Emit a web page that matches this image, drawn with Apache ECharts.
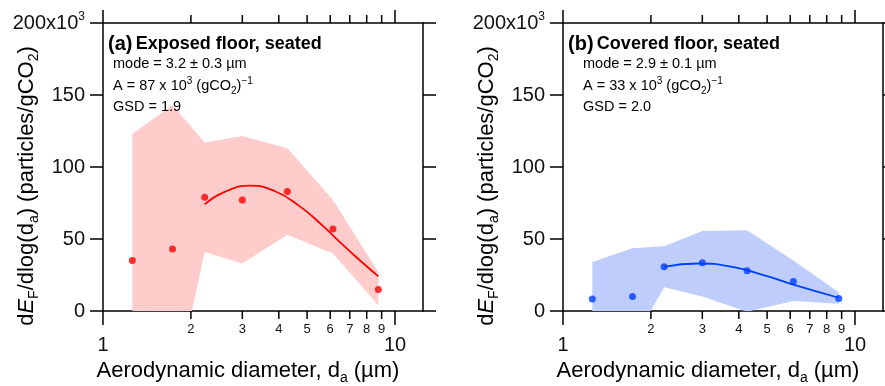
<!DOCTYPE html>
<html>
<head>
<meta charset="utf-8">
<script src="https://cdn.jsdelivr.net/npm/echarts@6/dist/echarts.min.js"></script>
<style>
html,body{margin:0;padding:0;background:#fff;}
#c{width:885px;height:386px;}
</style>
</head>
<body>
<div id="c"></div>
<script>
// ---------- data ----------
const xTickMajor = [1, 10];
const xTickMinor = [2, 3, 4, 5, 6, 7, 8, 9];
const yTicks = [0, 50, 100, 150, 200];

// Panel (a) Exposed floor, seated
const xA = [1.26, 1.73, 2.23, 3.0, 4.28, 6.13, 8.77];
const yA = [35, 43, 79, 77, 83, 57, 15];
const upperA = [123, 143, 117, 121.5, 113, 77, 27];
const lowerA = [-50, -62, 41, 33, 53, 40, 4];
const fitXA = [2.23, 2.6, 3.2, 3.9, 4.7, 5.6, 6.7, 7.8, 8.77];
const fitYA = [74, 82.6, 87, 83, 73, 60, 45, 33, 24];

// Panel (b) Covered floor, seated
const xB = [1.26, 1.73, 2.22, 3.0, 4.27, 6.15, 8.8];
const yB = [8.3, 10, 30.8, 33.5, 28, 20.4, 8.6];
const upperB = [34, 43.5, 45, 55.5, 56, 35, 13];
const lowerB = [-20, -22, 16.5, 10, -0.5, 7, 5];
const fitXB = [2.22, 2.9, 3.8, 5.0, 6.4, 8.8];
const fitYB = [30.6, 33, 30.6, 24.2, 17.2, 9.2];

// ---------- chart ----------
const FONT = '"Liberation Sans", Arial, sans-serif';
const X_MIN = 1, X_MAX = 12.47;
const chart = echarts.init(document.getElementById('c'), null, {renderer: 'canvas'});

const zip = (a, b) => a.map((v, i) => [v, b[i]]);

function xAxes(gi) {
  return [
    {
      gridIndex: gi, type: 'log', logBase: 10, min: X_MIN, max: X_MAX, position: 'bottom',
      axisLine: {onZero: false, lineStyle: {color: '#000', width: 1.5}},
      axisTick: {show: true, length: 14, customValues: xTickMajor, lineStyle: {color: '#000', width: 1.5}},
      axisLabel: {fontSize: 20, margin: 24, color: '#111', fontFamily: FONT, customValues: xTickMajor,
        formatter: v => String(Math.round(v))},
      splitLine: {show: false}
    },
    {
      gridIndex: gi, type: 'log', logBase: 10, min: X_MIN, max: X_MAX, position: 'top',
      axisLine: {onZero: false, lineStyle: {color: '#000', width: 1.5}},
      axisTick: {show: true, length: 13, customValues: xTickMajor, lineStyle: {color: '#000', width: 1.5}},
      axisLabel: {show: false},
      splitLine: {show: false}
    }
  ];
}
function yAxes(gi) {
  return [
    {
      gridIndex: gi, type: 'value', min: yTicks[0], max: yTicks[yTicks.length - 1], interval: 50, position: 'left',
      axisLine: {show: true, onZero: false, lineStyle: {color: '#000', width: 1.5}},
      axisTick: {show: true, length: 13, lineStyle: {color: '#000', width: 1.5}},
      axisLabel: {fontSize: 20, margin: 18, color: '#111', fontFamily: FONT,
        formatter: v => v === 200 ? '{m|200x10}{s|3}' : '{m|' + v + '}',
        rich: {
          m: {fontSize: 20, fontFamily: FONT, color: '#111', lineHeight: 24, verticalAlign: 'middle'},
          s: {fontSize: 12, fontFamily: FONT, color: '#111', lineHeight: 12, verticalAlign: 'top'}
        }},
      splitLine: {show: false}
    },
    {
      gridIndex: gi, type: 'value', min: yTicks[0], max: yTicks[yTicks.length - 1], interval: 50, position: 'right',
      axisLine: {show: true, onZero: false, lineStyle: {color: '#000', width: 1.5}},
      axisTick: {show: true, length: 13, lineStyle: {color: '#000', width: 1.5}},
      axisLabel: {show: false},
      splitLine: {show: false}
    }
  ];
}

function bandSeries(ax, xs, up, lo, color) {
  return {
    type: 'custom', xAxisIndex: ax, yAxisIndex: ax, clip: true, z: 1,
    data: [[xs[0], up[0]]],
    renderItem: (params, api) => {
      const pts = [];
      for (let i = 0; i < xs.length; i++) pts.push(api.coord([xs[i], up[i]]));
      for (let i = xs.length - 1; i >= 0; i--) pts.push(api.coord([xs[i], lo[i]]));
      return {type: 'polygon', shape: {points: pts}, style: {fill: color}};
    },
    silent: true
  };
}
function minorTickSeries(ax) {
  return {
    type: 'custom', xAxisIndex: ax, yAxisIndex: ax, clip: false, z: 5, silent: true,
    data: xTickMinor.map(v => [v, 0]),
    renderItem: (params, api) => {
      const v = api.value(0);
      const b = api.coord([v, yTicks[0]]);
      const t = api.coord([v, yTicks[yTicks.length - 1]]);
      return {
        type: 'group',
        children: [
          {type: 'line', shape: {x1: b[0], y1: b[1], x2: b[0], y2: b[1] + 8}, style: {stroke: '#000', lineWidth: 1.5}},
          {type: 'line', shape: {x1: t[0], y1: t[1], x2: t[0], y2: t[1] - 8}, style: {stroke: '#000', lineWidth: 1.5}},
          {type: 'text', x: b[0], y: b[1] + 18, style: {text: String(v), font: '13px ' + FONT, fill: '#111', align: 'center', verticalAlign: 'middle'}}
        ]
      };
    }
  };
}
function fitSeries(ax, fx, fy, color) {
  return {type: 'line', xAxisIndex: ax, yAxisIndex: ax, data: zip(fx, fy), smooth: 0.5, showSymbol: false,
    lineStyle: {color: color, width: 1.8}, z: 3, silent: true};
}
function pointSeries(ax, xs, ys, color) {
  return {type: 'scatter', xAxisIndex: ax, yAxisIndex: ax, data: zip(xs, ys), symbol: 'circle', symbolSize: 7,
    itemStyle: {color: color}, z: 4, silent: true};
}

const richText = {
  n: {fontSize: 14.5, fontFamily: FONT, color: '#111', lineHeight: 20, verticalAlign: 'middle'},
  sup: {fontSize: 10, fontFamily: FONT, color: '#111', lineHeight: 10, verticalAlign: 'top'},
  sub: {fontSize: 10, fontFamily: FONT, color: '#111', lineHeight: 10, verticalAlign: 'bottom'}
};
const titleRich = {
  n: {fontSize: 22, fontFamily: FONT, color: '#111', lineHeight: 29, verticalAlign: 'middle'},
  i: {fontSize: 22, fontFamily: FONT, fontStyle: 'italic', color: '#111', lineHeight: 29, verticalAlign: 'middle'},
  sub: {fontSize: 14, fontFamily: FONT, color: '#111', lineHeight: 14, verticalAlign: 'bottom'}
};
const headRich = {
  p: {fontSize: 20, fontWeight: 'bold', fontFamily: FONT, color: '#111', lineHeight: 24, verticalAlign: 'middle'},
  t: {fontSize: 18, fontWeight: 'bold', fontFamily: FONT, color: '#111', lineHeight: 24, verticalAlign: 'middle'}
};

function panelGraphics(gx, tag, head, mode, amp, gsd, textX) {
  const txt = (x, y, text, rich) => ({type: 'text', x: x, y: y, z: 10,
    style: {text: text, rich: rich, align: 'left', verticalAlign: 'middle'}});
  return [
    txt(gx + 5, 44, '{p|' + tag + '} {t|' + head + '}', headRich),
    txt(textX, 64, '{n|mode = ' + mode + ' µm}', richText),
    txt(textX, 86, '{n|A = ' + amp + ' x 10}{sup|3}{n| (gCO}{sub|2}{n|)}{sup|−1}', richText),
    txt(textX, 107, '{n|GSD = ' + gsd + '}', richText),
    {type: 'text', x: gx - 76, y: 186, rotation: Math.PI / 2, z: 10,
      style: {text: '{n|d}{i|E}{sub|F}{n|/dlog(d}{sub|a}{n|) (particles/gCO}{sub|2}{n|)}', rich: titleRich,
        align: 'center', verticalAlign: 'middle'}},
    {type: 'text', x: gx + 145, y: 371, z: 10,
      style: {text: '{n|Aerodynamic diameter, d}{sub|a}{n| (µm)}', rich: titleRich, align: 'center', verticalAlign: 'middle'}}
  ];
}

const option = {
  animation: false,
  backgroundColor: '#fff',
  grid: [
    {left: 103, top: 23, width: 320, height: 288},
    {left: 563, top: 23, width: 320, height: 288}
  ],
  xAxis: [].concat(xAxes(0), xAxes(1)),
  yAxis: [].concat(yAxes(0), yAxes(1)),
  series: [
    bandSeries(0, xA, upperA, lowerA, '#ffcccc'),
    fitSeries(0, fitXA, fitYA, '#ff0000'),
    pointSeries(0, xA, yA, '#ff0000'),
    minorTickSeries(0),
    bandSeries(2, xB, upperB, lowerB, '#bfcdfc'),
    fitSeries(2, fitXB, fitYB, '#0040ff'),
    pointSeries(2, xB, yB, '#0040ff'),
    minorTickSeries(2)
  ],
  graphic: [].concat(
    panelGraphics(103, '(a)', 'Exposed floor, seated', '3.2 ± 0.3', '87', '1.9', 113),
    panelGraphics(563, '(b)', 'Covered floor, seated', '2.9 ± 0.1', '33', '2.0', 583)
  )
};
chart.setOption(option);
</script>
</body>
</html>
